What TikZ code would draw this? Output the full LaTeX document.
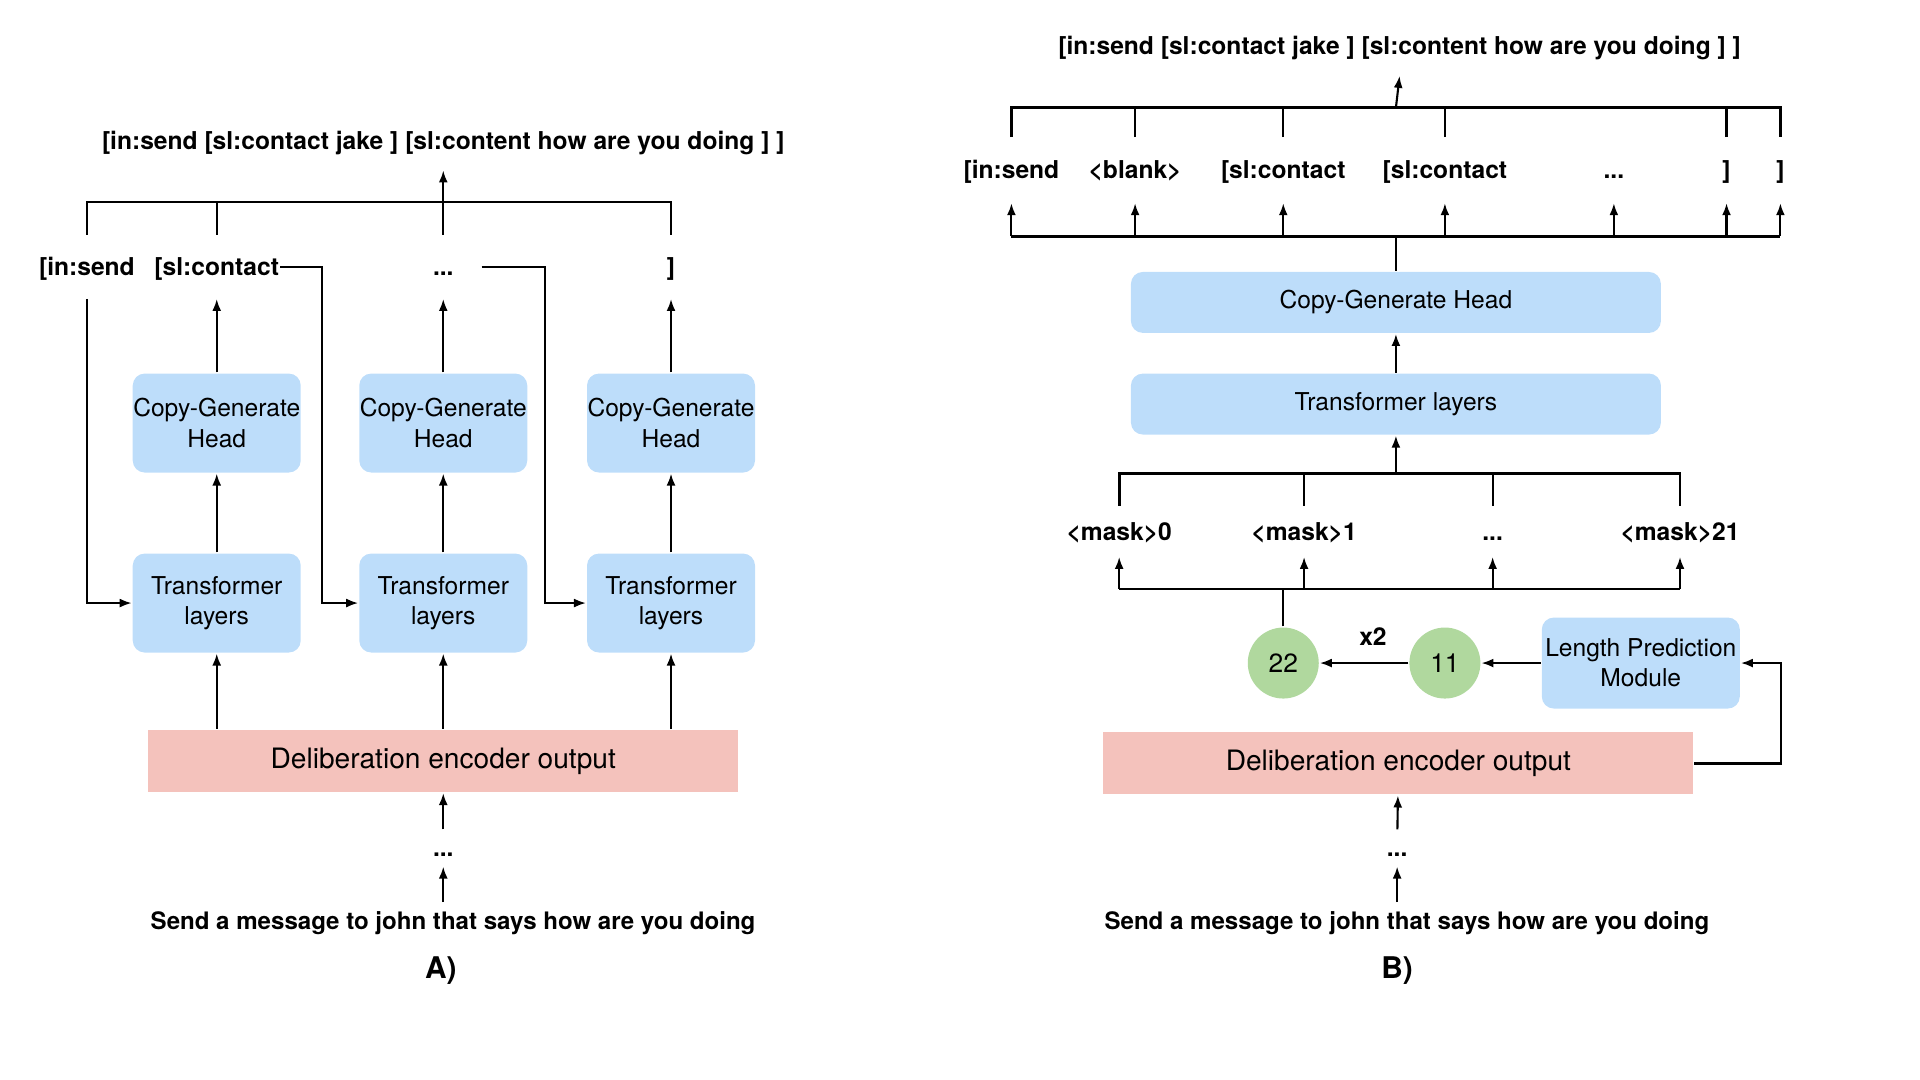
\documentclass[tikz,border=0pt]{standalone}
\usepackage{fontspec}
\setmainfont{TeX Gyre Heros}
\usetikzlibrary{positioning,shapes.geometric,arrows.meta,calc}

\definecolor{boxblue}{RGB}{189,221,250}
\definecolor{encpink}{RGB}{244,194,188}
\definecolor{numgreen}{RGB}{176,216,158}

\begin{document}
\begin{tikzpicture}[x=0.12245mm, y=-0.12245mm, >={Latex[length=1.2mm,width=0.9mm]}, line width=0.6pt,
  blk/.style={fill=boxblue, rounded corners=1.2mm, align=center, inner sep=0pt, font=\fontsize{7}{8.6}\selectfont},
  encbox/.style={fill=encpink, minimum width=59mm, minimum height=6.2mm, font=\fontsize{8}{9.6}\selectfont},
  tok/.style={inner sep=0pt, text height=0.75em, text depth=0.25em, font=\bfseries\fontsize{7}{8.4}\selectfont},
  sent/.style={tok, font=\bfseries\fontsize{6.85}{8.2}\selectfont},
  num/.style={circle, fill=numgreen, minimum size=7.1mm, inner sep=0pt, font=\fontsize{7.5}{9}\selectfont},
  bus/.style={line width=0.8pt}]
  \useasboundingbox (0,0) rectangle (1568,882);

  % A) one decoder step per token
  \node[tok, inner ysep=1.1mm] (outA) at (362,115) {[in:send [sl:contact jake ] [sl:content how are you doing ] ]};
  \node[tok, minimum height=6.2mm] (tA1) at (71,218) {[in:send};
  \node[tok, minimum height=6.2mm] (tA2) at (177,218) {[sl:contact};
  \node[tok, minimum height=6.2mm] (tA3) at (362,218) {...};
  \node[tok, minimum height=6.2mm] (tA4) at (548,218) {]};

  \node[blk, minimum width=16.8mm, minimum height=9.9mm] (cgA1) at (177,345.5) {Copy-Generate\\Head};
  \node[blk, minimum width=16.8mm, minimum height=9.9mm] (cgA2) at (362,345.5) {Copy-Generate\\Head};
  \node[blk, minimum width=16.8mm, minimum height=9.9mm] (cgA3) at (548,345.5) {Copy-Generate\\Head};
  \node[blk, minimum width=16.8mm, minimum height=9.9mm] (tfA1) at (177,492.5) {Transformer\\layers};
  \node[blk, minimum width=16.8mm, minimum height=9.9mm] (tfA2) at (362,492.5) {Transformer\\layers};
  \node[blk, minimum width=16.8mm, minimum height=9.9mm] (tfA3) at (548,492.5) {Transformer\\layers};

  \node[encbox] (encA) at (362,621.5) {Deliberation encoder output};
  \node[tok] (dotsA) at (362,692.5) {...};
  \node[sent] (inA) at (370,752) {Send a message to john that says how are you doing};
  \node[tok, font=\bfseries\fontsize{8.5}{10}\selectfont] (capA) at (360,792) {A)};

  \coordinate (busA) at (362,165);
  \draw[bus] (tA1.north) |- (busA) -| (tA4.north);
  \draw (tA2.north) -- (tA2.north |- busA);
  \draw[->] (tA3.north) -- (outA.south);

  \draw[->] (cgA1) -- (tA2);
  \draw[->] (cgA2) -- (tA3);
  \draw[->] (cgA3) -- (tA4);
  \draw[->] (tfA1) -- (cgA1);
  \draw[->] (tfA2) -- (cgA2);
  \draw[->] (tfA3) -- (cgA3);
  \draw[->] (encA.north -| tfA1) -- (tfA1.south);
  \draw[->] (encA.north -| tfA2) -- (tfA2.south);
  \draw[->] (encA.north -| tfA3) -- (tfA3.south);

  \draw[->] (tA1.south) |- (tfA1.west);
  \draw[->] (tA2.east) -- ++(34,0) |- (tfA2.west);
  \draw[->] ([xshift=2.7mm]tA3.east) -- ++(52,0) |- (tfA3.west);

  \draw[->] (dotsA) -- (encA);
  \draw[->] (inA.north -| dotsA.south) -- (dotsA.south);

  % B) all tokens at once from predicted length
  \node[tok, inner ysep=1.2mm] (outB) at (1143,37) {[in:send [sl:contact jake ] [sl:content how are you doing ] ]};
  \node[tok, minimum height=6.4mm] (tB1) at (826,139) {[in:send};
  \node[tok, minimum height=6.4mm] (tB2) at (927,139) {<blank>};
  \node[tok, minimum height=6.4mm] (tB3) at (1048,139) {[sl:contact};
  \node[tok, minimum height=6.4mm] (tB4) at (1180,139) {[sl:contact};
  \node[tok, minimum height=6.4mm] (tB5) at (1318,139) {...};
  \node[tok, minimum height=6.4mm] (tB6) at (1410,139) {]};
  \node[tok, minimum height=6.4mm] (tB7) at (1454,139) {]};

  \node[blk, minimum width=53mm, minimum height=6.1mm] (cgB) at (1140,247) {Copy-Generate Head};
  \node[blk, minimum width=53mm, minimum height=6.1mm] (tfB) at (1140,330) {Transformer layers};

  \node[tok, minimum height=4.9mm] (mB1) at (914,434) {<mask>0};
  \node[tok, minimum height=4.9mm] (mB2) at (1065,434) {<mask>1};
  \node[tok, minimum height=4.9mm] (mB3) at (1219,434) {...};
  \node[tok, minimum height=4.9mm] (mB4) at (1372,434) {<mask>21};

  \node[num] (n22) at (1048,541.5) {22};
  \node[num] (n11) at (1180,541.5) {11};
  \node[blk, minimum width=19.8mm, minimum height=9.1mm] (lpm) at (1340,541.5) {Length Prediction\\Module};

  \node[encbox] (encB) at (1142,623.5) {Deliberation encoder output};
  \node[tok] (dotsB) at (1141,692.5) {...};
  \node[sent] (inB) at (1149,752) {Send a message to john that says how are you doing};
  \node[tok, font=\bfseries\fontsize{8.5}{10}\selectfont] (capB) at (1141,792) {B)};

  \coordinate (busB1) at (1140,88);
  \coordinate (busB2) at (1140,193);
  \draw[bus] (tB1.north) |- (busB1) -| (tB7.north);
  \draw (tB2.north) -- (tB2.north |- busB1);
  \draw (tB3.north) -- (tB3.north |- busB1);
  \draw (tB4.north) -- (tB4.north |- busB1);
  \draw (tB6.north) -- (tB6.north |- busB1);
  \draw[->] (busB1) -- (outB.south);

  \draw[bus] (tB1.south |- busB2) -- (tB7.south |- busB2);
  \draw[->] (tB1.south |- busB2) -- (tB1.south);
  \draw[->] (tB2.south |- busB2) -- (tB2.south);
  \draw[->] (tB3.south |- busB2) -- (tB3.south);
  \draw[->] (tB4.south |- busB2) -- (tB4.south);
  \draw[->] (tB5.south |- busB2) -- (tB5.south);
  \draw[->] (tB6.south |- busB2) -- (tB6.south);
  \draw[->] (tB7.south |- busB2) -- (tB7.south);
  \draw (cgB.north) -- (busB2);

  \draw[->] (tfB) -- (cgB);
  \coordinate (busB3) at (1140,387);
  \draw[->] (busB3) -- (tfB.south);
  \draw[bus] (mB1.north) |- (busB3) -| (mB4.north);
  \draw (mB2.north) -- (mB2.north |- busB3);
  \draw (mB3.north) -- (mB3.north |- busB3);

  \coordinate (busB4) at (1048,481);
  \draw[bus] (mB1.south |- busB4) -- (mB4.south |- busB4);
  \draw[->] (mB1.south |- busB4) -- (mB1.south);
  \draw[->] (mB2.south |- busB4) -- (mB2.south);
  \draw[->] (mB3.south |- busB4) -- (mB3.south);
  \draw[->] (mB4.south |- busB4) -- (mB4.south);
  \draw (n22.north) -- (busB4);

  \draw[->] (n11) -- node[tok, pos=0.4, above=0.8mm] {x2} (n22);
  \draw[->] (lpm) -- (n11);
  \draw[->] (encB.east) -- ++(71,0) |- (lpm.east);

  \draw[->] (dotsB) -- (encB);
  \draw[->] (inB.north -| dotsB.south) -- (dotsB.south);
\end{tikzpicture}
\end{document}
